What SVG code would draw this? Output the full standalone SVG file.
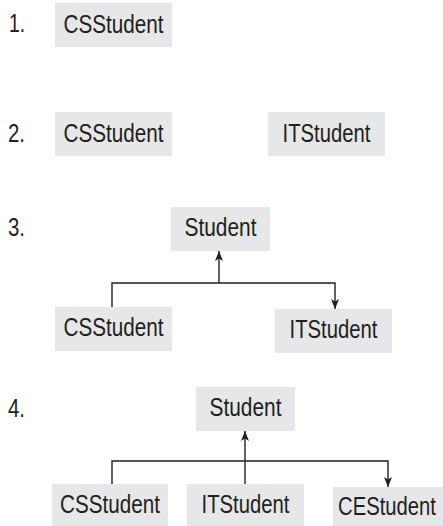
<svg xmlns="http://www.w3.org/2000/svg" width="443" height="526" viewBox="0 0 443 526">
<style>
.box{fill:#e6e7e8}
.t{font-family:"Liberation Sans",Arial,sans-serif;font-size:25px;fill:#231f20}
.c{text-anchor:middle}
.ln{fill:none;stroke:#231f20;stroke-width:1.4}
</style>
<defs>
<marker id="ah" viewBox="0 0 10 8" refX="10" refY="4" markerWidth="10" markerHeight="8" markerUnits="userSpaceOnUse" orient="auto">
<path d="M0,0 L10,4 L0,8 L2.5,4 z" fill="#231f20"/>
</marker>
</defs>
<rect width="443" height="526" fill="#fff"/>
<g id="labels">
<text class="t" x="9" y="32" textLength="16" lengthAdjust="spacingAndGlyphs">1.</text>
<text class="t" x="8" y="142" textLength="17" lengthAdjust="spacingAndGlyphs">2.</text>
<text class="t" x="8" y="236" textLength="17" lengthAdjust="spacingAndGlyphs">3.</text>
<text class="t" x="8" y="417" textLength="17" lengthAdjust="spacingAndGlyphs">4.</text>
</g>
<g id="s1-cs"><rect class="box" x="55" y="3" width="117" height="44"/><text class="t c" x="113.5" y="33" textLength="100" lengthAdjust="spacingAndGlyphs">CSStudent</text></g>
<g id="s2-cs"><rect class="box" x="55" y="112" width="117" height="44"/><text class="t c" x="113.5" y="142" textLength="100" lengthAdjust="spacingAndGlyphs">CSStudent</text></g>
<g id="s2-it"><rect class="box" x="268" y="112" width="117" height="44"/><text class="t c" x="326.5" y="142" textLength="88" lengthAdjust="spacingAndGlyphs">ITStudent</text></g>
<g id="s3-student"><rect class="box" x="171" y="207" width="99" height="44"/><text class="t c" x="220.5" y="236" textLength="72" lengthAdjust="spacingAndGlyphs">Student</text></g>
<g id="s3-cs"><rect class="box" x="55" y="307" width="117" height="44"/><text class="t c" x="113.5" y="336" textLength="100" lengthAdjust="spacingAndGlyphs">CSStudent</text></g>
<g id="s3-it"><rect class="box" x="275" y="309" width="117" height="44"/><text class="t c" x="333.5" y="338" textLength="88" lengthAdjust="spacingAndGlyphs">ITStudent</text></g>
<g id="s4-student"><rect class="box" x="196" y="387" width="99" height="44"/><text class="t c" x="245.5" y="416" textLength="72" lengthAdjust="spacingAndGlyphs">Student</text></g>
<g id="s4-cs"><rect class="box" x="52" y="484" width="116" height="42"/><text class="t c" x="110" y="513" textLength="100" lengthAdjust="spacingAndGlyphs">CSStudent</text></g>
<g id="s4-it"><rect class="box" x="187" y="484" width="117" height="42"/><text class="t c" x="245.5" y="513" textLength="88" lengthAdjust="spacingAndGlyphs">ITStudent</text></g>
<g id="s4-ce"><rect class="box" x="333" y="487" width="110" height="39"/><text class="t c" transform="translate(387,515) scale(0.81,1)">CEStudent</text></g>
<g id="connectors">
<path class="ln" d="M112,307 V283 H335 V309" marker-end="url(#ah)"/>
<path class="ln" d="M219,283 V251" marker-end="url(#ah)"/>
<path class="ln" d="M112,484 V461 H388 V487" marker-end="url(#ah)"/>
<path class="ln" d="M245,484 V431" marker-end="url(#ah)"/>
</g>
</svg>
